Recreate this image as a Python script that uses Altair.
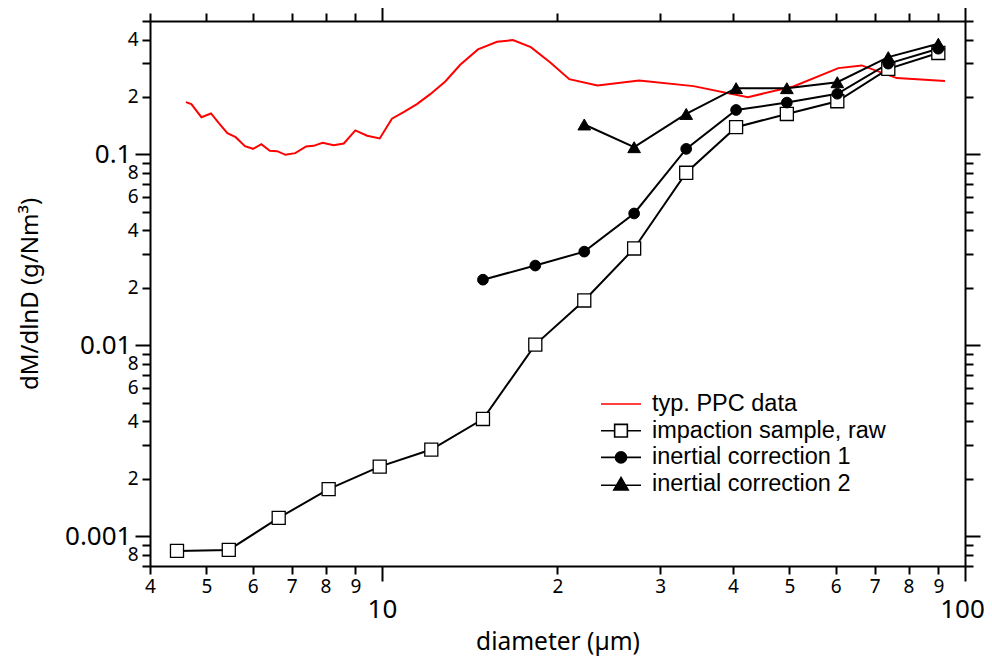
import altair as alt
import pandas as pd

# ---------------- data ----------------
d_ppc = [4.61, 4.71, 4.90, 5.09, 5.25, 5.43, 5.61, 5.82, 6.01, 6.21, 6.42, 6.61, 6.83,
         7.10, 7.41, 7.63, 7.91, 8.26, 8.60, 9.00, 9.43, 9.91, 10.40, 10.89, 11.48,
         12.10, 12.84, 13.62, 14.61, 15.75, 16.77, 18.0, 19.44, 20.95, 23.42, 27.61,
         34.22, 42.42, 50.77, 60.64, 66.5, 76.37, 92.4]
ppc = [0.188, 0.1835, 0.1568, 0.164, 0.1459, 0.1293, 0.1232, 0.1105, 0.1071, 0.1132,
       0.1046, 0.1041, 0.0996, 0.1016, 0.1101, 0.111, 0.1152, 0.1119, 0.1142, 0.1336,
       0.1253, 0.1213, 0.1539, 0.1666, 0.1835, 0.207, 0.2413, 0.295, 0.355, 0.3895,
       0.397, 0.365, 0.303, 0.248, 0.23, 0.2443, 0.228, 0.1996, 0.2271, 0.2833, 0.2927,
       0.2511, 0.2422]

d_raw = [4.45, 5.46, 6.65, 8.10, 9.91, 12.15, 14.90, 18.32, 22.23, 27.07, 33.25,
         40.49, 49.48, 60.39, 73.86, 90.0]
raw = [0.00084, 0.00085, 0.00125, 0.00177, 0.00232, 0.00285, 0.00412, 0.0101, 0.0172,
       0.0322, 0.0802, 0.139, 0.163, 0.190, 0.281, 0.340]

d_c1 = [14.90, 18.32, 22.23, 27.07, 33.25, 40.49, 49.48, 60.39, 73.86, 90.0]
c1 = [0.0221, 0.0262, 0.0310, 0.0491, 0.107, 0.171, 0.187, 0.208, 0.299, 0.358]

d_c2 = [22.23, 27.07, 33.25, 40.49, 49.48, 60.39, 73.86, 90.0]
c2 = [0.1436, 0.1092, 0.163, 0.2225, 0.2225, 0.239, 0.3235, 0.380]

series_names = ["typ. PPC data", "impaction sample, raw",
                "inertial correction 1", "inertial correction 2"]

x_ticks = [4, 5, 6, 7, 8, 9, 10, 20, 30, 40, 50, 60, 70, 80, 90, 100]
y_ticks = [0.0007, 0.0008, 0.0009,
           0.001, 0.002, 0.003, 0.004, 0.005, 0.006, 0.007, 0.008, 0.009,
           0.01, 0.02, 0.03, 0.04, 0.05, 0.06, 0.07, 0.08, 0.09,
           0.1, 0.2, 0.3, 0.4, 0.5]

# ---------------- tables ----------------
ppc_df = pd.DataFrame({"d": d_ppc, "v": ppc})
raw_df = pd.DataFrame({"d": d_raw, "v": raw})
c1_df = pd.DataFrame({"d": d_c1, "v": c1})
c2_df = pd.DataFrame({"d": d_c2, "v": c2})
leg_df = pd.DataFrame({"s": series_names})

XDOM = [4, 100]
YDOM = [0.0007, 0.5]

x_major = "datum.value == 10 || datum.value == 100"
y_major = "abs(log(datum.value)/LN10 - round(log(datum.value)/LN10)) < 0.000001"
y_mant = "round(datum.value / pow(10, floor(log(datum.value)/LN10 + 0.000000001)))"

LBL_FONT = "Noto Sans"

x_axis_bottom = alt.Axis(
    orient="bottom", values=x_ticks, grid=False, title="diameter (\u00b5m)",
    labelExpr=("(" + x_major + ") ? ['', '' + datum.value] : "
               "(datum.value > 10 ? '' + round(datum.value/10) : '' + datum.value)"),
    labelFont=LBL_FONT,
    labelFontSize={"condition": {"test": x_major, "value": 26}, "value": 19},
    labelOffset={"condition": {"test": "datum.value == 100", "value": -3}, "value": 0},
    labelLineHeight=12,
    labelBaseline="top", labelPadding=3, labelFlush=False, labelOverlap=False,
    labelColor="black",
    tickSize={"condition": {"test": x_major, "value": 15}, "value": 8},
    tickWidth=2, tickColor="black", domainColor="black", domainWidth=2,
    titleFont=LBL_FONT, titleFontSize=24.5, titleFontWeight="normal",
    titleColor="black", titlePadding=8,
)
y_axis_left = alt.Axis(
    orient="left", values=y_ticks, grid=False, title="dM/dlnD (g/Nm\u00b3)",
    labelExpr=("(" + y_major + ") ? format(datum.value, '~g') + '\u00a0\u200a' : "
               "(indexof([2,4,6,8], " + y_mant + ") >= 0 ? '' + " + y_mant + " : '')"),
    labelFont=LBL_FONT,
    labelFontSize={"condition": {"test": y_major, "value": 26}, "value": 19},
    labelPadding=4, labelFlush=False, labelOverlap=False, labelColor="black",
    tickSize={"condition": {"test": y_major, "value": 15}, "value": 8},
    tickWidth=2, tickColor="black", domainColor="black", domainWidth=2,
    titleFont=LBL_FONT, titleFontSize=24, titleFontWeight="normal",
    titleColor="black", titlePadding=22,
)
x_axis_top = alt.Axis(
    orient="top", values=x_ticks, grid=False, title=None, labels=False,
    tickSize={"condition": {"test": x_major, "value": 15}, "value": 8},
    tickWidth=2, tickColor="black", domainColor="black", domainWidth=2,
)
y_axis_right = alt.Axis(
    orient="right", values=y_ticks, grid=False, title=None, labels=False,
    tickSize={"condition": {"test": y_major, "value": 15}, "value": 8},
    tickWidth=2, tickColor="black", domainColor="black", domainWidth=2,
)

def xs():
    return alt.Scale(type="log", domain=XDOM, nice=False, zero=False)

def ys():
    return alt.Scale(type="log", domain=YDOM, nice=False, zero=False)

def X():
    return alt.X("d:Q", scale=xs(), axis=x_axis_bottom)

def Y():
    return alt.Y("v:Q", scale=ys(), axis=y_axis_left)

ppc_line = alt.Chart(ppc_df).mark_line(color="#ff0000", strokeWidth=2).encode(x=X(), y=Y())

raw_line = alt.Chart(raw_df).mark_line(color="black", strokeWidth=2).encode(x=X(), y=Y())
raw_pts = alt.Chart(raw_df).mark_point(
    shape="square", size=170, filled=True, fill="white", stroke="black",
    strokeWidth=1.3, opacity=1).encode(x=X(), y=Y())

c1_line = alt.Chart(c1_df).mark_line(color="black", strokeWidth=2).encode(x=X(), y=Y())
c1_pts = alt.Chart(c1_df).mark_point(
    shape="circle", size=115, filled=True, fill="black", stroke="black",
    strokeWidth=1, opacity=1).encode(x=X(), y=Y())

c2_line = alt.Chart(c2_df).mark_line(color="black", strokeWidth=2).encode(x=X(), y=Y())
c2_pts = alt.Chart(c2_df).mark_point(
    shape="triangle-up", size=160, filled=True, fill="black", stroke="black",
    strokeWidth=1, opacity=1).encode(x=X(), y=Y())

# legend symbols: line + marker as custom paths (unit = sqrt(size)/2 px)
p_line = "M-1.667,0H1.667"
p_square = "M-1.667,0H-0.53M0.53,0H1.667M-0.53,-0.53H0.53V0.53H-0.53Z"
p_circle = ("M-1.667,0H-0.46M0.46,0H1.667M-0.46,0A0.46,0.46,0,1,1,0.46,0"
            "A0.46,0.46,0,1,1,-0.46,0Z")
p_tri = "M-1.667,0.1H1.667M0,-0.55L0.6,0.48L-0.6,0.48Z"

legend = alt.Legend(
    orient="none", legendX=458, legendY=370, title=None,
    labelFont="Liberation Sans", labelFontSize=23.5, labelColor="black",
    labelOffset=18, symbolSize=576, symbolStrokeWidth=1.6, symbolOpacity=1,
    rowPadding=1.7, padding=0, labelLimit=400,
)
legend_layer = alt.Chart(leg_df).transform_filter("false").mark_point(
    opacity=1, filled=False).encode(
    x=X(), y=Y(),
    shape=alt.Shape("s:N", scale=alt.Scale(domain=series_names,
                                           range=[p_line, p_square, p_circle, p_tri]),
                    legend=legend),
    fill=alt.Fill("s:N", scale=alt.Scale(domain=series_names,
                                         range=["transparent", "white", "black", "black"]),
                  legend=legend),
    stroke=alt.Stroke("s:N", scale=alt.Scale(domain=series_names,
                                             range=["#ff0000", "black", "black", "black"]),
                      legend=legend),
)

inner = alt.layer(ppc_line, raw_line, c1_line, c2_line, raw_pts, c1_pts, c2_pts,
                  legend_layer)

frame = alt.Chart(raw_df).mark_point(opacity=0).encode(
    x=alt.X("d:Q", scale=xs(), axis=x_axis_top),
    y=alt.Y("v:Q", scale=ys(), axis=y_axis_right),
)

chart = alt.layer(inner, frame).resolve_scale(x="independent", y="independent").properties(
    width=815, height=545,
    autosize=alt.AutoSizeParams(type="none"),
    padding={"left": 142, "top": 13, "right": 19, "bottom": 90},
    background="white",
).configure_view(stroke=None)

chart.save("out.html", embed_options={"renderer": "svg", "actions": False})
